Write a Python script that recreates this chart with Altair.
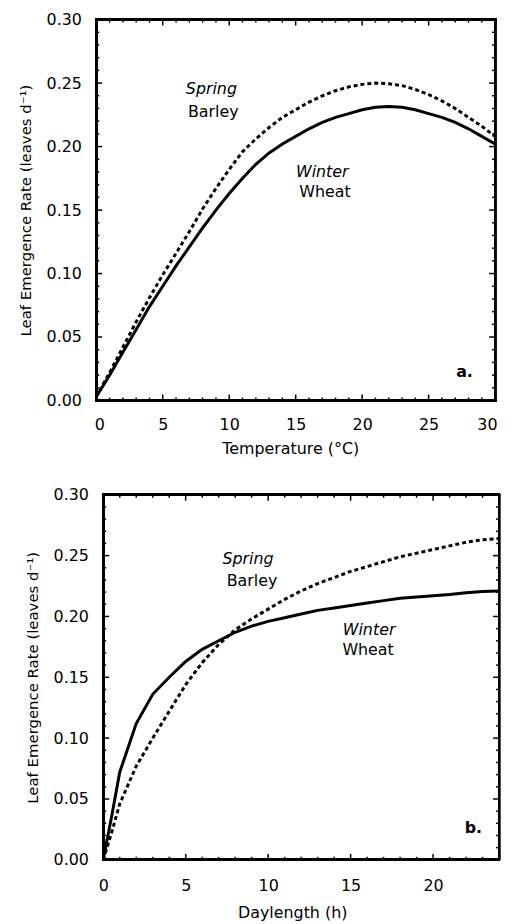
import altair as alt
import pandas as pd

FONT = "DejaVu Sans"

# ---------------- Panel a: temperature response ----------------
temp_c = list(range(0, 31))
temp_winter_wheat = [0.003, 0.020, 0.038, 0.056, 0.074, 0.090, 0.106, 0.121, 0.136, 0.150,
                     0.163, 0.175, 0.186, 0.195, 0.202, 0.208, 0.214, 0.219, 0.223, 0.226,
                     0.229, 0.231, 0.2315, 0.231, 0.229, 0.226, 0.223, 0.219, 0.214, 0.208, 0.202]
temp_spring_barley = [0.003, 0.022, 0.042, 0.062, 0.081, 0.099, 0.116, 0.133, 0.151, 0.167,
                      0.182, 0.196, 0.206, 0.215, 0.223, 0.229, 0.235, 0.240, 0.244, 0.247,
                      0.249, 0.250, 0.2495, 0.248, 0.245, 0.241, 0.236, 0.230, 0.223, 0.216, 0.208]

# ---------------- Panel b: daylength response ----------------
day_h = [0, 0.5] + list(range(1, 25))
day_winter_wheat = [0.0, 0.035, 0.072, 0.112, 0.136, 0.150, 0.163, 0.173, 0.180, 0.187,
                    0.192, 0.196, 0.199, 0.202, 0.205, 0.207, 0.209, 0.211, 0.213, 0.215,
                    0.216, 0.217, 0.218, 0.2195, 0.2205, 0.221]
day_spring_barley = [0.0, 0.022, 0.046, 0.077, 0.100, 0.122, 0.144, 0.162, 0.177, 0.189,
                     0.198, 0.206, 0.214, 0.221, 0.227, 0.232, 0.237, 0.241, 0.245, 0.249,
                     0.252, 0.255, 0.258, 0.261, 0.263, 0.264]

# ---------------- ticks ----------------
y_major = [0.0, 0.05, 0.10, 0.15, 0.20, 0.25, 0.30]
y_minor = [0.01, 0.02, 0.03, 0.04, 0.06, 0.07, 0.08, 0.09, 0.11, 0.12, 0.13, 0.14,
           0.16, 0.17, 0.18, 0.19, 0.21, 0.22, 0.23, 0.24, 0.26, 0.27, 0.28, 0.29]
temp_major = [0, 5, 10, 15, 20, 25, 30]
temp_minor = [v for v in range(1, 30) if v % 5 != 0]
day_major = [0, 5, 10, 15, 20]
day_minor = [v for v in range(1, 24) if v % 5 != 0]

# ---------------- annotations ----------------
temp_notes_italic = {"x": [8.66, 17.0], "y": [0.245, 0.180], "t": ["Spring", "Winter"]}
temp_notes_plain = {"x": [8.8, 17.2], "y": [0.227, 0.164], "t": ["Barley", "Wheat"]}
day_notes_italic = {"x": [8.78, 16.12], "y": [0.247, 0.189], "t": ["Spring", "Winter"]}
day_notes_plain = {"x": [9.02, 16.06], "y": [0.229, 0.172], "t": ["Barley", "Wheat"]}
temp_tag = {"x": [27.7], "y": [0.0227], "t": ["a."]}
day_tag = {"x": [22.44], "y": [0.026], "t": ["b."]}

YTITLE = "Leaf Emergence Rate (leaves d\u207b\u00b9)"


def panel(xv, wheat, barley, xdom, xmajor, xminor, W, H, xtitle, n_it, n_pl, tag,
          lab_pad, title_pad, title_x, dx=0, flush=False):
    df = pd.DataFrame({"x": xv, "wheat": wheat, "barley": barley})
    GW = W + dx
    xs = alt.Scale(domain=xdom, nice=False, zero=False, range=[dx, GW])
    ys = alt.Scale(domain=[0, 0.30], nice=False, zero=False)
    xkw = dict(labelFlush=True, labelFlushOffset=2) if flush else dict(labelFlush=False)
    xaxis = alt.Axis(values=xmajor, format="d", ticks=False, domain=False, grid=False,
                     labelPadding=lab_pad, titlePadding=title_pad, title=xtitle,
                     titleX=title_x, **xkw)
    yaxis = alt.Axis(values=y_major, format=".2f", ticks=False, domain=False, grid=False,
                     labelPadding=15, titlePadding=13, title=YTITLE, titleFontSize=15,
                     offset=-dx)

    def X(f):
        return alt.X(f, scale=xs, axis=xaxis)

    def Y(f):
        return alt.Y(f, scale=ys, axis=yaxis)

    wheat_line = alt.Chart(df).mark_line(color="black", strokeWidth=3).encode(
        x=X("x:Q"), y=Y("wheat:Q"))
    barley_line = alt.Chart(df).mark_line(color="black", strokeWidth=3, strokeDash=[4, 3]).encode(
        x=X("x:Q"), y=Y("barley:Q"))
    it = alt.Chart(pd.DataFrame(n_it)).mark_text(font=FONT, fontSize=16, fontStyle="italic",
                                                 color="black").encode(
        x=X("x:Q"), y=Y("y:Q"), text="t:N")
    pl = alt.Chart(pd.DataFrame(n_pl)).mark_text(font=FONT, fontSize=16, color="black").encode(
        x=X("x:Q"), y=Y("y:Q"), text="t:N")
    tg = alt.Chart(pd.DataFrame(tag)).mark_text(font=FONT, fontSize=16, fontWeight="bold",
                                                color="black").encode(
        x=X("x:Q"), y=Y("y:Q"), text="t:N")
    layers = [wheat_line, barley_line, it, pl, tg]
    # inward tick marks on all four sides
    for vals, ln in ((xmajor, 6), (xminor, 3)):
        d = pd.DataFrame({"v": vals})
        layers.append(alt.Chart(d).mark_rule(color="black", strokeWidth=1.5).encode(
            x=X("v:Q"), y=alt.value(H), y2=alt.value(H - ln)))
        layers.append(alt.Chart(d).mark_rule(color="black", strokeWidth=1.5).encode(
            x=X("v:Q"), y=alt.value(0), y2=alt.value(ln)))
    for vals, ln in ((y_major, 6), (y_minor, 3)):
        d = pd.DataFrame({"v": vals})
        layers.append(alt.Chart(d).mark_rule(color="black", strokeWidth=1.5).encode(
            y=Y("v:Q"), x=alt.value(dx), x2=alt.value(dx + ln)))
        layers.append(alt.Chart(d).mark_rule(color="black", strokeWidth=1.5).encode(
            y=Y("v:Q"), x=alt.value(GW), x2=alt.value(GW - ln)))
    # frame
    fr = dict(color="black", strokeWidth=2, strokeCap="square")
    layers.append(alt.Chart(df).mark_rule(**fr).encode(
        x=alt.value(dx), y=alt.value(0), y2=alt.value(H)))
    layers.append(alt.Chart(df).mark_rule(**fr).encode(
        x=alt.value(GW), y=alt.value(0), y2=alt.value(H)))
    layers.append(alt.Chart(df).mark_rule(**fr).encode(
        y=alt.value(0), x=alt.value(dx), x2=alt.value(GW)))
    layers.append(alt.Chart(df).mark_rule(**fr).encode(
        y=alt.value(H), x=alt.value(dx), x2=alt.value(GW)))
    return alt.layer(*layers).properties(width=GW, height=H)


top = panel(temp_c, temp_winter_wheat, temp_spring_barley, [0, 30], temp_major, temp_minor,
            402, 384, "Temperature (\u00b0C)", temp_notes_italic, temp_notes_plain, temp_tag,
            16, 8, 195.5, dx=0, flush=True)
bottom = panel(day_h, day_winter_wheat, day_spring_barley, [0, 24], day_major, day_minor,
               399, 368, "Daylength (h)", day_notes_italic, day_notes_plain, day_tag,
               18, 11, 197.5, dx=7, flush=False)

chart = alt.vconcat(top, bottom, spacing=31).properties(
    padding={"left": 10, "top": 0, "right": 0, "bottom": 0}
).configure(font=FONT).configure_axis(
    labelFont=FONT, titleFont=FONT, labelFontSize=16, titleFontSize=16,
    titleFontWeight="normal", labelColor="black", titleColor="black"
).configure_view(stroke="transparent", strokeWidth=0)

chart.save("out.html", embed_options={"renderer": "svg", "actions": False})
